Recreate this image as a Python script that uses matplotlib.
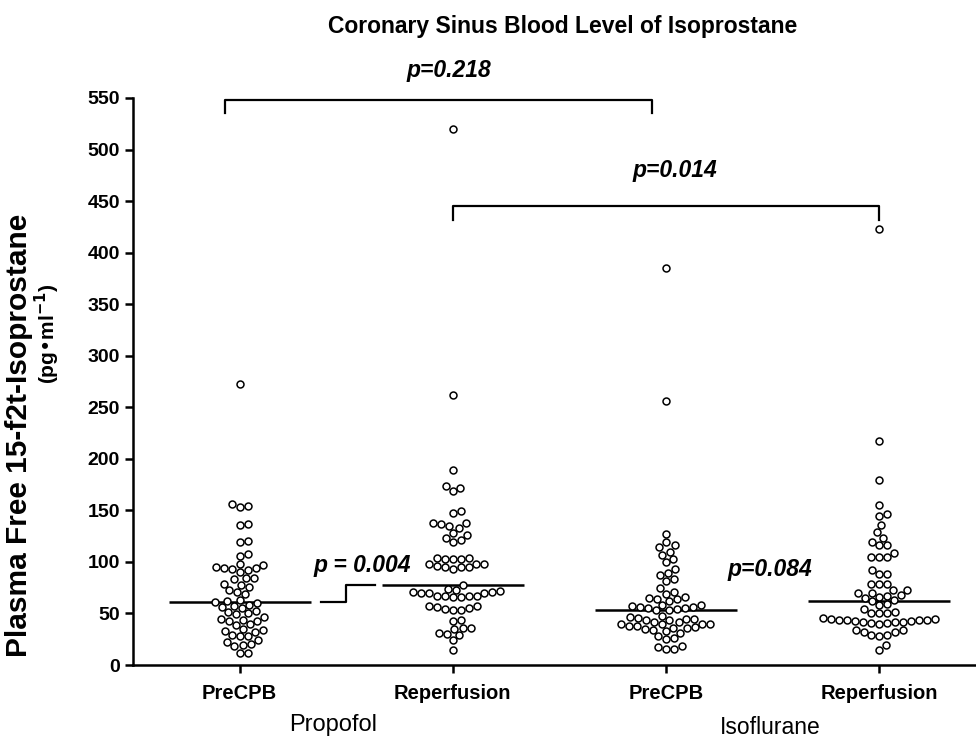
import numpy as np
import matplotlib
matplotlib.use("Agg")
import matplotlib.pyplot as plt

# ===== Data =====
groups = ["PreCPB", "Reperfusion", "PreCPB", "Reperfusion"]

propofol_pre = [273, 156, 154, 153, 137, 136, 120, 119, 108, 106, 98, 97, 95, 94, 94,
                93, 92, 90, 84, 84, 83, 79, 78, 76, 73, 71, 69, 63, 62, 61, 60, 58, 57,
                56, 55, 52, 51, 50, 49, 47, 45, 44, 43, 43, 40, 39, 35, 34, 33, 32, 29,
                28, 28, 24, 22, 20, 19, 18, 12, 12]
propofol_rep = [520, 262, 189, 174, 172, 169, 149, 147, 138, 138, 137, 135, 133, 128,
                126, 123, 121, 119, 104, 104, 103, 103, 103, 98, 98, 98, 96, 95, 95, 95,
                93, 78, 74, 73, 72, 71, 71, 70, 70, 70, 67, 67, 67, 67, 66, 66, 57, 57,
                56, 55, 54, 53, 53, 44, 43, 36, 36, 35, 31, 30, 29, 24, 15]
iso_pre = [385, 256, 127, 119, 116, 114, 110, 107, 103, 100, 93, 89, 87, 83, 81, 75, 71,
           69, 66, 65, 64, 64, 62, 58, 58, 57, 56, 56, 55, 55, 54, 53, 53, 48, 47, 46,
           45, 45, 44, 44, 42, 42, 40, 40, 40, 40, 38, 38, 37, 36, 36, 35, 34, 33, 31,
           28, 26, 25, 18, 17, 16, 16]
iso_rep = [423, 217, 179, 155, 146, 145, 136, 129, 123, 119, 116, 116, 109, 105, 105,
           105, 92, 88, 88, 79, 79, 79, 73, 73, 70, 70, 68, 67, 66, 65, 63, 62, 59, 58,
           54, 51, 50, 50, 50, 46, 45, 45, 44, 44, 44, 44, 43, 43, 42, 42, 42, 41, 41,
           40, 34, 34, 32, 32, 29, 29, 28, 19, 15]
medians = [61, 78, 53, 62]

p_labels = ["p=0.218", "p=0.014", "p = 0.004", "p=0.084"]

plt.rcParams['font.family'] = ['Liberation Sans', 'DejaVu Sans']

fig = plt.figure(figsize=(9.76, 7.39), dpi=100)
ax = fig.add_axes([133/976, 1 - 665/739, 842/976, 567/739])
ax.set_xlim(0.5, 4.45)
ax.set_ylim(0, 550)

# pixels per data unit, used for the swarm layout
xpx = 842 / 3.95
ypx = 567 / 550


def swarm(vals, d=8.0):
    ys = np.array(vals, dtype=float) * ypx
    order = np.argsort(ys)
    placed = []
    xs = np.zeros(len(ys))
    for i in order:
        y = ys[i]
        off = 0.0
        for k in range(600):
            off = ((k + 1) // 2) * 0.5 * (1 if k % 2 else -1)
            if all((off - a) ** 2 + (y - b) ** 2 >= d * d for a, b in placed):
                break
        placed.append((off, y))
        xs[i] = off
    return xs / xpx


data = [propofol_pre, propofol_rep, iso_pre, iso_rep]
for i, vals in enumerate(data):
    x = i + 1 + swarm(vals)
    ax.plot(x, vals, 'o', ms=5, mfc='white', mec='black', mew=1.1, ls='none', zorder=3)
    ax.hlines(medians[i], i + 1 - 0.333, i + 1 + 0.333, color='black', lw=1.8, zorder=2)

# step connector between propofol medians
ax.plot([1.38, 1.50, 1.50, 1.633],
        [medians[0], medians[0], medians[1], medians[1]], color='black', lw=1.6)

# brackets
ax.plot([0.93, 0.93, 2.935, 2.935], [535, 548, 548, 535], color='black', lw=1.6,
        clip_on=False)
ax.plot([2.0, 2.0, 4.0, 4.0], [432, 445, 445, 432], color='black', lw=1.6,
        clip_on=False)

tkw = dict(fontsize=16.5, fontweight='bold', style='italic', ha='center', va='center')
ax.text(1.98, 577, p_labels[0], clip_on=False, **tkw)
ax.text(3.043, 480, p_labels[1], **tkw)
ax.text(1.576, 97, p_labels[2], **tkw)
ax.text(3.49, 93, p_labels[3], **tkw)

ax.spines['top'].set_visible(False)
ax.spines['right'].set_visible(False)
ax.spines['left'].set_linewidth(1.8)
ax.spines['bottom'].set_linewidth(1.8)

ax.set_yticks(range(0, 551, 50))
ax.set_xticks([1, 2, 3, 4])
ax.set_xticklabels(groups)
ax.tick_params(axis='both', width=1.8, length=6, labelsize=14)
ax.tick_params(axis='x', pad=8, labelsize=14.5)
for lbl in ax.get_xticklabels() + ax.get_yticklabels():
    lbl.set_fontweight('bold')

fig.text(563/976, 1 - 27/739, "Coronary Sinus Blood Level of Isoprostane",
         fontsize=16.5, fontweight='bold', ha='center', va='center')
fig.text(19/976, 1 - 435/739, "Plasma Free 15-f2t-Isoprostane", rotation=90,
         fontsize=21.5, fontweight='bold', ha='center', va='center')
fig.text(47/976, 1 - 334/739, "(pg\u2022ml$^{\\mathbf{-1}}$)", rotation=90,
         fontsize=15, fontweight='bold', ha='center', va='center')
fig.text(333/976, 1 - 725/739, "Propofol", fontsize=17, ha='center', va='center')
fig.text(770/976, 1 - 727/739, "Isoflurane", fontsize=16.5, ha='center', va='center')

fig.savefig("out.png", dpi=100)
